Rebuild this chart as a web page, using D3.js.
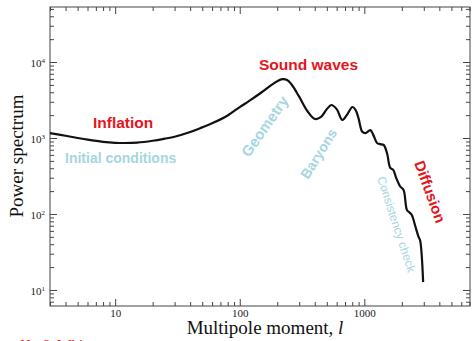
<!DOCTYPE html>
<html>
<head>
<meta charset="utf-8">
<script src="https://cdn.jsdelivr.net/npm/d3@7"></script>
<style>
  html, body { margin: 0; padding: 0; background: #fff; }
  svg { display: block; }
</style>
</head>
<body>
<svg id="chart" width="475" height="341"></svg>
<script>
// CMB angular power spectrum (multipole l, power)
const multipoles = [3, 4, 5, 6, 8, 10, 12, 15, 20, 25, 30, 40, 50, 60, 80, 100, 120, 150, 180, 200,
  220, 240, 260, 300, 350, 400, 450, 500, 545, 600, 667, 730, 802, 850, 900, 960, 1020, 1117,
  1180, 1265, 1340, 1428, 1520, 1615, 1706, 1800, 1940, 2065, 2197, 2300, 2405, 2560, 2725, 2803, 2965];
const power = [1160, 1070, 1000, 950, 890, 865, 860, 870, 920, 980, 1040, 1200, 1380, 1560, 1980, 2550,
  3100, 4000, 5000, 5600, 5950, 5800, 5100, 3500, 2250, 1780, 1900, 2400, 2720, 2400, 1730, 2050,
  2560, 2350, 1800, 1220, 1160, 1270, 1100, 860, 830, 810, 635, 403, 380, 300, 230, 207, 113, 105,
  97, 70, 50, 45, 12.7];

const xMajorTicks = [10, 100, 1000];
const xTickLabels = ["10", "100", "1000"];
const yMajorTicks = [10, 100, 1000, 10000];
const yTickExponents = ["1", "2", "3", "4"];

const redLabels = ["Inflation", "Sound waves", "Diffusion"];
const blueLabels = ["Initial conditions", "Geometry", "Baryons", "Consistency check"];

const RED = "#e5151d";
const BLUE = "#a6d6df";

const svg = d3.select("#chart");
const plotL = 50, plotR = 470, plotT = 7, plotB = 306;

const x = d3.scaleLog().domain([3, 7050]).range([plotL, plotR]);
const y = d3.scaleLog().domain([6.15, 53000]).range([plotB, plotT]);

// minor tick positions for each decade inside the domains
function minors(scale) {
  const [a, b] = scale.domain();
  const out = [];
  for (let e = Math.floor(Math.log10(a)); e <= Math.ceil(Math.log10(b)); e++) {
    for (let m = 2; m <= 9; m++) {
      const v = m * Math.pow(10, e);
      if (v >= a && v <= b) out.push(v);
    }
  }
  return out;
}

const axisColor = "#444";
function styleAxis(g) {
  g.select(".domain").remove();
  g.selectAll(".tick line").attr("stroke", axisColor).attr("stroke-width", 1);
}

// bottom axis: major ticks + labels, minor ticks
svg.append("g").attr("transform", `translate(0,${plotB})`)
  .call(d3.axisBottom(x).tickValues(xMajorTicks).tickSizeInner(-7).tickSizeOuter(0)
    .tickPadding(3).tickFormat((d, i) => xTickLabels[i]))
  .call(styleAxis)
  .call(g => g.selectAll("text").attr("font-family", "Liberation Serif, Times New Roman, serif")
    .attr("font-size", 11).attr("fill", "#222"));
svg.append("g").attr("transform", `translate(0,${plotB})`)
  .call(d3.axisBottom(x).tickValues(minors(x)).tickSizeInner(-4).tickSizeOuter(0).tickFormat(""))
  .call(styleAxis);

// top axis: ticks only
svg.append("g").attr("transform", `translate(0,${plotT})`)
  .call(d3.axisTop(x).tickValues(xMajorTicks).tickSizeInner(-7).tickSizeOuter(0).tickFormat(""))
  .call(styleAxis);
svg.append("g").attr("transform", `translate(0,${plotT})`)
  .call(d3.axisTop(x).tickValues(minors(x)).tickSizeInner(-4).tickSizeOuter(0).tickFormat(""))
  .call(styleAxis);

// left axis with power-of-ten labels
const yAxisG = svg.append("g").attr("transform", `translate(${plotL},0)`)
  .call(d3.axisLeft(y).tickValues(yMajorTicks).tickSizeInner(-7).tickSizeOuter(0).tickPadding(5)
    .tickFormat(""))
  .call(styleAxis);
yAxisG.selectAll(".tick text").each(function (d, i) {
  const t = d3.select(this)
    .attr("font-family", "Liberation Serif, Times New Roman, serif")
    .attr("font-size", 11).attr("fill", "#222").attr("dy", "0.4em");
  t.text(null);
  t.append("tspan").text("10");
  t.append("tspan").attr("font-size", 7).attr("dy", "-0.6em").text(yTickExponents[i]);
});
svg.append("g").attr("transform", `translate(${plotL},0)`)
  .call(d3.axisLeft(y).tickValues(minors(y)).tickSizeInner(-4).tickSizeOuter(0).tickFormat(""))
  .call(styleAxis);

// right axis: ticks only
svg.append("g").attr("transform", `translate(${plotR},0)`)
  .call(d3.axisRight(y).tickValues(yMajorTicks).tickSizeInner(-7).tickSizeOuter(0).tickFormat(""))
  .call(styleAxis);
svg.append("g").attr("transform", `translate(${plotR},0)`)
  .call(d3.axisRight(y).tickValues(minors(y)).tickSizeInner(-4).tickSizeOuter(0).tickFormat(""))
  .call(styleAxis);

// frame
svg.append("rect").attr("x", plotL).attr("y", plotT)
  .attr("width", plotR - plotL).attr("height", plotB - plotT)
  .attr("fill", "none").attr("stroke", axisColor).attr("stroke-width", 1);

// spectrum curve
const pts = multipoles.map((l, i) => [l, power[i]]);
const line = d3.line().x(d => x(d[0])).y(d => y(d[1])).curve(d3.curveCatmullRom.alpha(0.5));
svg.append("path").datum(pts).attr("d", line)
  .attr("fill", "none").attr("stroke", "#111").attr("stroke-width", 2.2)
  .attr("stroke-linejoin", "round");

// axis titles
svg.append("text").attr("x", 265).attr("y", 334).attr("text-anchor", "middle")
  .attr("font-family", "Liberation Serif, Times New Roman, serif").attr("font-size", 19)
  .attr("fill", "#111")
  .call(t => { t.append("tspan").text("Multipole moment, "); t.append("tspan").attr("font-style", "italic").text("l"); });
svg.append("text").attr("transform", "translate(23,156) rotate(-90)").attr("text-anchor", "middle")
  .attr("font-family", "Liberation Serif, Times New Roman, serif").attr("font-size", 19)
  .attr("fill", "#111").text("Power spectrum");

// annotations
const sans = "Liberation Sans, Arial, sans-serif";
function note(txt, px, py, angle, color, size, weight) {
  svg.append("text").attr("transform", `translate(${px},${py}) rotate(${angle})`)
    .attr("font-family", sans).attr("font-size", size).attr("font-weight", weight)
    .attr("fill", color).text(txt);
}
note(redLabels[0], 93, 128, 0, RED, 15.5, "bold");
note(redLabels[1], 259, 70, 0, RED, 15.5, "bold");
note(redLabels[2], 414, 163, 70, RED, 15, "bold");
note(blueLabels[0], 65, 163, 0, BLUE, 14, "bold");
note(blueLabels[1], 249, 158, -55, BLUE, 15, "bold");
note(blueLabels[2], 308, 180, -58, BLUE, 14, "bold");
note(blueLabels[3], 377, 178, 72, BLUE, 12, "normal");

// credit line at the bottom edge
svg.append("text").attr("x", 20).attr("y", 350)
  .attr("font-family", "Liberation Serif, Times New Roman, serif").attr("font-size", 15)
  .attr("fill", RED).text("Hu & White");
</script>
</body>
</html>
